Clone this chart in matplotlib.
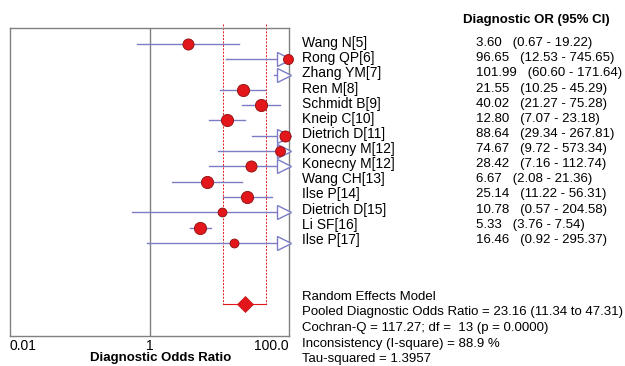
import numpy as np
import matplotlib.pyplot as plt
import matplotlib.transforms as mtransforms
from matplotlib.ticker import NullLocator

plt.rcParams['font.family'] = ['Liberation Sans', 'DejaVu Sans']

# study data
studies = ['Wang N[5]', 'Rong QP[6]', 'Zhang YM[7]', 'Ren M[8]', 'Schmidt B[9]',
           'Kneip C[10]', 'Dietrich D[11]', 'Konecny M[12]', 'Konecny M[12]',
           'Wang CH[13]', 'Ilse P[14]', 'Dietrich D[15]', 'Li SF[16]', 'Ilse P[17]']
dor = [3.60, 96.65, 101.99, 21.55, 40.02, 12.80, 88.64, 74.67, 28.42,
       6.67, 25.14, 10.78, 5.33, 16.46]
ci_low = [0.67, 12.53, 60.60, 10.25, 21.27, 7.07, 29.34, 9.72, 7.16,
          2.08, 11.22, 0.57, 3.76, 0.92]
ci_high = [19.22, 745.65, 171.64, 45.29, 75.28, 23.18, 267.81, 573.34, 112.74,
           21.36, 56.31, 204.58, 7.54, 295.37]
# relative weight -> marker diameter
weights = [10, 9, 0, 11, 11, 11, 10, 9, 10, 11, 11, 8, 11, 8]

pooled = 23.16
pooled_low = 11.34
pooled_high = 47.31

summary_lines = ['Random Effects Model',
                 'Pooled Diagnostic Odds Ratio = 23.16 (11.34 to 47.31)',
                 'Cochran-Q = 117.27; df =  13 (p = 0.0000)',
                 'Inconsistency (I-square) = 88.9 %',
                 'Tau-squared = 1.3957']

xmin, xmax = 0.01, 100.0
line_col = '#7c7cc4'
red = '#e3161c'
edge = '#8a1010'

fig = plt.figure(figsize=(6.25, 3.66), dpi=100)
ax = fig.add_axes([10 / 625, 1 - 336 / 366, 279 / 625, 308 / 366])
ax.set_xscale('log')
ax.set_xlim(xmin, xmax)
ax.set_ylim(19.08, -1.04)

for s in ax.spines.values():
    s.set_color('#808080')
    s.set_linewidth(1.0)

ax.axvline(1, color='#808080', lw=1.0, zorder=1)

# pooled CI band
diamond_y = len(studies) + 3
for x in (pooled_low, pooled_high):
    ax.plot([x, x], [-1.3, diamond_y], color=red, lw=0.7, ls=(0, (2, 1.5)),
            clip_on=False, zorder=1)
ax.plot([pooled_low, pooled_high], [diamond_y, diamond_y], color=red, lw=0.8, zorder=1)
ax.plot([pooled], [diamond_y], marker='D', ms=8, color=red, mec='#c01010', mew=0.5, zorder=4)

arrow_tr = mtransforms.offset_copy(ax.transData, fig=fig, x=-3.5, y=0, units='points')
for i in range(len(studies)):
    lo = max(ci_low[i], xmin)
    hi = min(ci_high[i], xmax)
    ax.plot([lo, hi], [i, i], color=line_col, lw=1.0, zorder=2)
    if ci_high[i] > xmax:
        ax.plot([xmax], [i], marker='>', ms=9.5, mfc='white', mec=line_col, mew=1.0,
                transform=arrow_tr, clip_on=False, zorder=3)
    if dor[i] <= xmax:
        ax.plot([dor[i]], [i], marker='o', ms=weights[i] * 0.8, color=red, mec=edge,
                mew=0.6, clip_on=False, zorder=5)

ax.set_yticks([])
ax.set_xticks([0.01, 1, 100])
ax.xaxis.set_minor_locator(NullLocator())
ax.set_xticklabels(['0.01', '1', '100.0'], fontsize=10)
ax.tick_params(axis='x', which='both', length=0, pad=2)
labs = ax.get_xticklabels()
labs[0].set_ha('left')
labs[2].set_ha('right')
ax.set_xlabel('Diagnostic Odds Ratio', fontsize=9.5, fontweight='bold')
ax.xaxis.set_label_coords(0.54, -0.052)

# text columns
tr = mtransforms.blended_transform_factory(fig.transFigure, ax.transData)
fig.text(463 / 625, 1 - 20 / 366, 'Diagnostic OR (95% CI)', fontsize=9.5,
         fontweight='bold', va='center')
for i in range(len(studies)):
    yy = i - 0.05 - 0.012 * i
    ax.text(302 / 625, yy, studies[i], transform=tr, fontsize=10, va='center')
    ax.text(476 / 625, yy, f'{dor[i]:.2f}   ({ci_low[i]:.2f} - {ci_high[i]:.2f})',
            transform=tr, fontsize=9.5, va='center')

for k, line in enumerate(summary_lines):
    fig.text(302 / 625, 1 - (297 + 15.5 * k) / 366, line, fontsize=9.5, va='center')

fig.savefig('out.png', dpi=100)
